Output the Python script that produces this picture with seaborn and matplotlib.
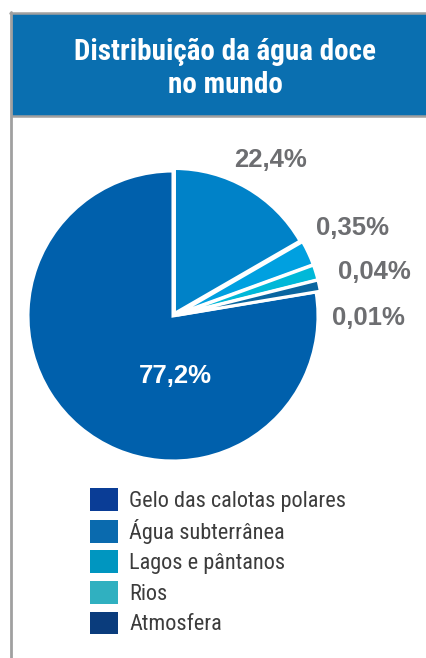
import matplotlib
matplotlib.use("Agg")
import matplotlib.pyplot as plt
import seaborn as sns
from matplotlib import font_manager
from matplotlib.patches import Patch, Rectangle
from matplotlib.lines import Line2D

# data
categories = ["Gelo das calotas polares", "Água subterrânea", "Lagos e pântanos", "Rios", "Atmosfera"]
percent_labels = ["77,2%", "22,4%", "0,35%", "0,04%", "0,01%"]
# the drawing is not to scale: the small shares are enlarged so they can be seen.
# these are the shares as drawn in the picture (in degrees of the circle)
drawn_share = [279.5, 60.0, 10.0, 6.0, 4.5]
slice_colors = ["#0060ac", "#0082c8", "#00a0e0", "#00b8d8", "#0a66a0"]
legend_colors = ["#0a3d96", "#0a6aae", "#0096c0", "#30b0c0", "#0a3c7c"]

sns.set_style("white")
names = {f.name for f in font_manager.fontManager.ttflist}
narrow = next((n for n in ["Roboto Condensed", "Archivo Narrow", "Asap Condensed",
                           "Barlow Semi Condensed"] if n in names), "DejaVu Sans")
plt.rcParams["font.family"] = ["Liberation Sans", "DejaVu Sans"]

W, H = 426, 658
fig = plt.figure(figsize=(W / 100, H / 100), dpi=100)
fig.patch.set_facecolor("white")


def fx(px):
    return px / W


def fy(py):
    return 1 - py / H


# header band and borders
fig.patches.append(Rectangle((fx(12), fy(115)), 1 - fx(12), fy(14) - fy(115),
                             transform=fig.transFigure, color="#0a6fb0", zorder=0))
border = "#a0a0a0"
fig.lines.append(Line2D([fx(10), 1], [fy(13), fy(13)], transform=fig.transFigure, color=border, lw=1.8))
fig.lines.append(Line2D([fx(12), 1], [fy(116), fy(116)], transform=fig.transFigure, color=border, lw=1.8))
fig.lines.append(Line2D([fx(11), fx(11)], [fy(12), 0], transform=fig.transFigure, color=border, lw=2.0))

title_font = dict(ha="center", va="baseline", color="white", fontsize=21, fontweight="bold",
                  family=[narrow, "DejaVu Sans"])
fig.text(fx(225), fy(60), "Distribuição da água doce", **title_font)
fig.text(fx(225), fy(93), "no mundo", **title_font)

# pie
cx, cy, r = 173, 316, 145
ax = fig.add_axes([fx(cx - r), fy(cy + r), 2 * r / W, 2 * r / H])
start = 90 + drawn_share[0]
wedges, _ = ax.pie(drawn_share, colors=slice_colors, startangle=start, counterclock=False,
                   explode=[0, 0.02, 0.03, 0.03, 0.03],
                   wedgeprops=dict(edgecolor="white", linewidth=2.2))
ax.set_xlim(-1, 1)
ax.set_ylim(-1, 1)
ax.set_aspect("equal")
ax.axis("off")

label_pos = [(0.014, -0.414), (0.67, 1.076), (1.24, 0.607), (1.386, 0.303), (1.35, -0.014)]
for i, (lab, (x, y)) in enumerate(zip(percent_labels, label_pos)):
    ax.text(x, y, lab, ha="center", va="center", fontsize=18.5, fontweight="bold",
            color="white" if i == 0 else "#6d6e71", clip_on=False)

# legend
handles = [Patch(facecolor=c, edgecolor="none") for c in legend_colors]
leg = fig.legend(handles, categories, loc="upper left", bbox_to_anchor=(fx(88), fy(486)),
                 frameon=False, handlelength=1.25, handleheight=1.2, handletextpad=0.5,
                 labelspacing=0.3, borderaxespad=0, borderpad=0.1,
                 prop=dict(family=[narrow, "DejaVu Sans"], size=16))
for t in leg.get_texts():
    t.set_color("#3c3c3c")

fig.savefig("out.png", dpi=100)
